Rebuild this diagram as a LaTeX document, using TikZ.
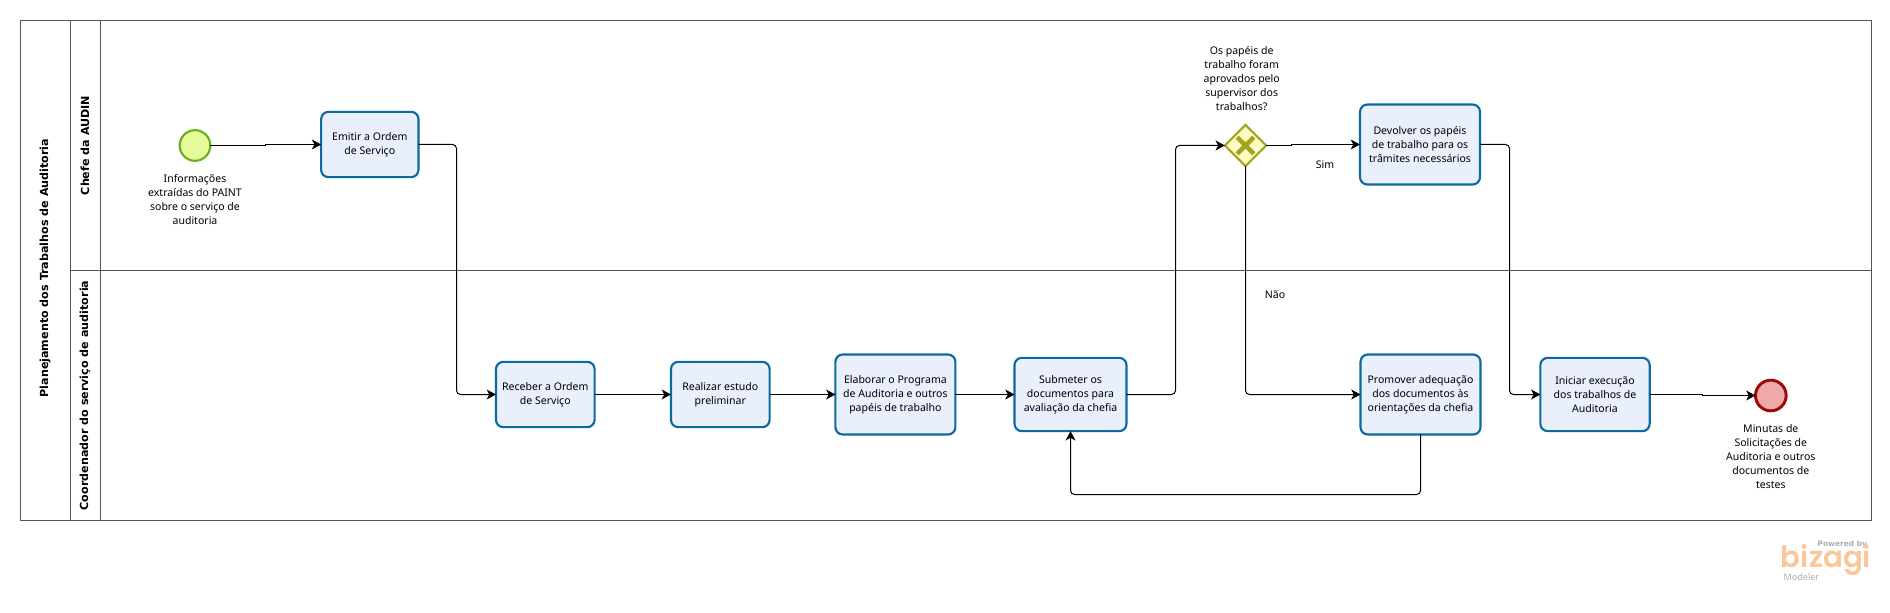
\documentclass[tikz,border=0pt]{standalone}
\usepackage{fontspec}
\usepackage{tikz}
\usetikzlibrary{arrows.meta,shapes.geometric}
\setmainfont{Noto Sans}
\newfontfamily\titlefont{DejaVu Sans Bold}
\newfontfamily\logofont{Poppins SemiBold}
\definecolor{taskfill}{HTML}{EAEFFC}
\definecolor{taskline}{HTML}{0B6A9F}
\definecolor{lanegray}{HTML}{555555}
\definecolor{startfill}{HTML}{E4FD9A}
\definecolor{startline}{HTML}{6DAE1E}
\definecolor{endfill}{HTML}{EEAAAA}
\definecolor{endline}{HTML}{A00808}
\definecolor{gatefill}{HTML}{FCFCC4}
\definecolor{gateline}{HTML}{A3A31E}
\definecolor{logoorange}{HTML}{FAC79A}
\definecolor{logogray}{HTML}{A9AEB3}

\begin{document}
\begin{tikzpicture}[x=0.75pt,y=-0.75pt,
    every node/.style={font=\fontsize{7.9}{10.5}\selectfont,align=center,inner sep=0pt,outer sep=0pt},
    task/.style={rectangle,rounded corners=5.5pt,draw=taskline,line width=1.6pt,fill=taskfill},
    startevent/.style={circle,draw=startline,line width=1.6pt,fill=startfill,minimum size=23pt},
    endevent/.style={circle,draw=endline,line width=2.2pt,fill=endfill,minimum size=23pt},
    gateway/.style={diamond,draw=gateline,line width=1.6pt,fill=gatefill,minimum size=31pt},
    flow/.style={draw=black,line width=0.75pt,rounded corners=3pt,-{Stealth[length=7pt,width=7.5pt,inset=2pt]}},
    lanebox/.style={draw=lanegray,line width=0.75pt},
    lanetitle/.style={rotate=90,font=\fontsize{8.35}{11}\titlefont\selectfont}]
    \useasboundingbox (0,0) rectangle (1890,613);

    % pool and lanes
    \draw[lanebox] (20.5,20.5) rectangle (1871.5,520.5);
    \draw[lanebox] (70.5,20.5) -- (70.5,520.5);
    \draw[lanebox] (100.5,20.5) -- (100.5,520.5);
    \draw[lanebox] (70.5,270.5) -- (1871.5,270.5);
    \node at (45,268) [lanetitle] (pooltitle) {Planejamento dos Trabalhos de Auditoria};
    \node at (85,145.5) [lanetitle] (lanechefe) {Chefe da AUDIN};
    \node at (85,395.5) [lanetitle] (lanecoord) {Coordenador do serviço de auditoria};

    % events and gateway
    \node at (195,145.5) [startevent] (start) {};
    \node at (1770.8,395.5) [endevent] (end) {};
    \node at (1245.5,145.5) [gateway] (gate) {};
    \draw[draw=gateline,line width=3.4pt] (1237.2,137.2) -- (1253.8,153.8) (1253.8,137.2) -- (1237.2,153.8);

    % tasks
    \node at (369.8,144.5) [task,minimum width=73pt,minimum height=49pt] (emitir) {Emitir a Ordem\\de Serviço};
    \node at (545.3,394.5) [task,minimum width=74pt,minimum height=49pt] (receber) {Receber a Ordem\\de Serviço};
    \node at (720.3,394.5) [task,minimum width=74pt,minimum height=49pt] (realizar) {Realizar estudo\\preliminar};
    \node at (895.4,394.5) [task,minimum width=90pt,minimum height=60pt] (elaborar) {Elaborar o Programa\\de Auditoria e outros\\papéis de trabalho};
    \node at (1070.5,394.5) [task,minimum width=84pt,minimum height=55pt] (submeter) {Submeter os\\documentos para\\avaliação da chefia};
    \node at (1420,144.5) [task,minimum width=90pt,minimum height=60pt] (devolver) {Devolver os papéis\\de trabalho para os\\trâmites necessários};
    \node at (1420.5,394.5) [task,minimum width=90pt,minimum height=60pt] (promover) {Promover adequação\\dos documentos às\\orientações da chefia};
    \node at (1595,394.5) [task,minimum width=82pt,minimum height=55pt] (iniciar) {Iniciar execução\\dos trabalhos de\\Auditoria};

    % text beside shapes
    \node at (195,200) (startlabel) {Informações\\extraídas do PAINT\\sobre o serviço de\\auditoria};
    \node at (1241.7,79) (gatelabel) {Os papéis de\\trabalho foram\\aprovados pelo\\supervisor dos\\trabalhos?};
    \node at (1770.8,457) (endlabel) {Minutas de\\Solicitações de\\Auditoria e outros\\documentos de\\testes};
    \node at (1325,165) (simlabel) {Sim};
    \node at (1275,295) (naolabel) {Não};

    % flows
    \draw[flow,rounded corners=0pt] (start.east) -- (265,145.5) -- (265,144.5) -- (emitir.west);
    \draw[flow] (emitir.east) -- (456.5,144.5) -- (456.5,394.5) -- (receber.west);
    \draw[flow] (receber) -- (realizar);
    \draw[flow] (realizar) -- (elaborar);
    \draw[flow] (elaborar) -- (submeter);
    \draw[flow] (submeter.east) -- (1175.5,394.5) -- (1175.5,145.5) -- (gate.west);
    \draw[flow,rounded corners=0pt] (gate.east) -- (1291.5,145.5) -- (1291.5,144.5) -- (devolver.west);
    \draw[flow] (gate.south) -- (1245.5,394.5) -- (promover.west);
    \draw[flow] (promover.south) -- (1420.5,494.5) -- (1070.5,494.5) -- (submeter.south);
    \draw[flow] (devolver.east) -- (1509.5,144.5) -- (1509.5,394.5) -- (iniciar.west);
    \draw[flow,rounded corners=0pt] (iniciar.east) -- (1702.5,394.5) -- (1702.5,395.5) -- (end.west);

    % logo
    \node at (1867,544) [anchor=east,text=logogray,font=\fontsize{5.6}{7}\titlefont\selectfont] (poweredby) {Powered by};
    \node at (1826,560) [text=logoorange,font=\fontsize{22}{24}\logofont\selectfont] (logoword) {bizagi};
    \node at (1783.6,577) [anchor=west,text=logogray,font=\fontsize{6.8}{8}\selectfont] (modeler) {Modeler};
\end{tikzpicture}
\end{document}
